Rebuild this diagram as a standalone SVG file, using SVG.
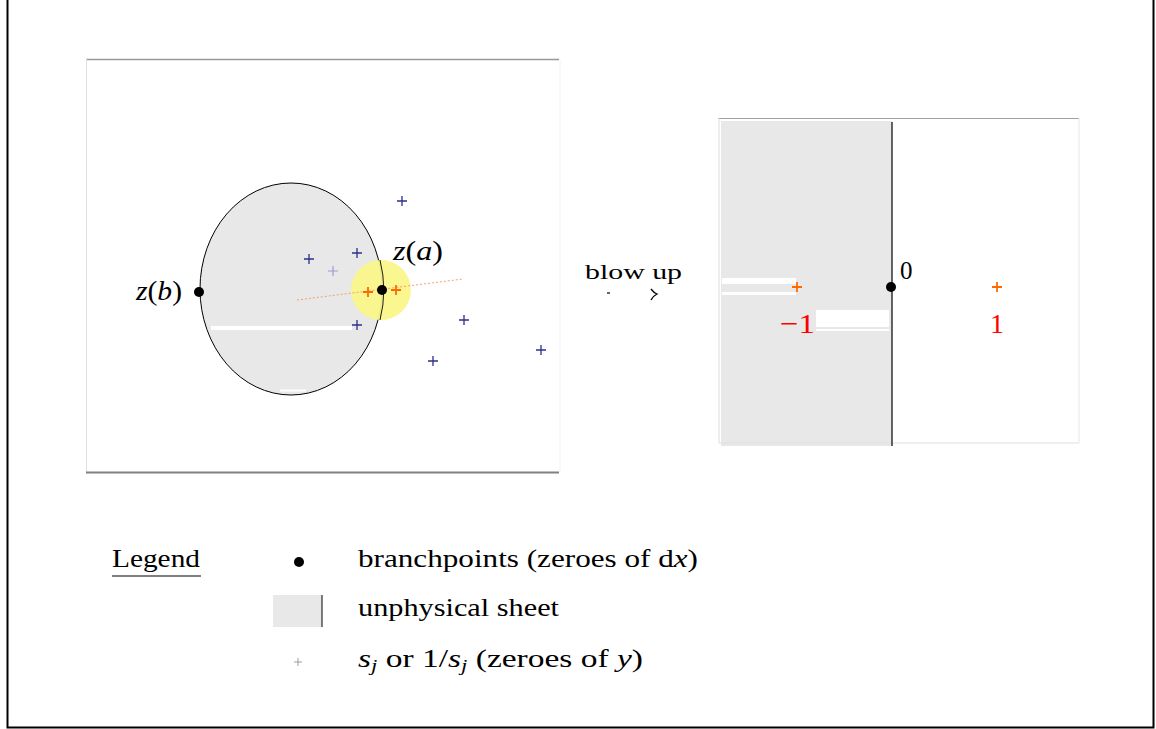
<svg xmlns="http://www.w3.org/2000/svg" width="1156" height="729" viewBox="0 0 1156 729">
<defs>
<style>
.t{font-family:"Liberation Serif","Times New Roman",serif;fill:#000}
.i{font-style:italic}
.bp{stroke:#2e2e8c;stroke-width:1.3;fill:none}
.op{stroke:#ff6a00;stroke-width:1.8;fill:none}
.red{fill:#ff0000}
</style>
<g id="bplus"><path d="M-5,0H5M0,-5V5"/></g>
<g id="oplus"><path d="M-5,0H5M0,-5V5"/></g>
</defs>
<rect width="1156" height="729" fill="#fff"/>
<g id="frame" fill="none" stroke="#000" stroke-width="2">
<path d="M7.5,-2V727.5H1153.5V-2"/>
</g>

<g id="left-panel">
<line x1="86" y1="59.5" x2="559" y2="59.5" stroke="#999" stroke-width="1.5"/>
<line x1="86.5" y1="59" x2="86.5" y2="472" stroke="#e0e0e0" stroke-width="1"/>
<line x1="560" y1="59" x2="560" y2="472" stroke="#f2f2f2" stroke-width="1"/>
<line x1="86" y1="472.5" x2="559" y2="472.5" stroke="#808080" stroke-width="1.8"/>
</g>

<g id="unphysical-region">
<ellipse cx="291" cy="289" rx="91" ry="106" fill="#e8e8e8" stroke="#000" stroke-width="1"/>
<line x1="211" y1="328" x2="352" y2="328" stroke="#fff" stroke-width="4"/>
<line x1="280" y1="390.5" x2="306" y2="390.5" stroke="#fff" stroke-width="2"/>
</g>

<g id="highlight">
<circle cx="381" cy="290" r="30" fill="#fbf78a" opacity="0.95"/>
<line x1="297" y1="300" x2="463" y2="279" stroke="#f0a070" stroke-width="1" stroke-dasharray="2,2"/>
<path d="M380,260 A91,106 0 0 1 380,320" fill="none" stroke="#000" stroke-width="0.9"/>
</g>

<g id="zeroes">
<use href="#bplus" class="bp" x="402" y="201"/>
<use href="#bplus" class="bp" x="309" y="259"/>
<use href="#bplus" class="bp" x="357" y="253"/>
<use href="#bplus" style="stroke:#9c9cd6;stroke-width:1.2;fill:none" x="333" y="271"/>
<use href="#bplus" class="bp" x="357" y="325"/>
<use href="#bplus" class="bp" x="464" y="320"/>
<use href="#bplus" class="bp" x="433" y="361"/>
<use href="#bplus" class="bp" x="541" y="350"/>
<use href="#oplus" class="op" x="368" y="292"/>
<use href="#oplus" class="op" x="396" y="290"/>
</g>

<g id="node-zb">
<circle cx="199" cy="292" r="5" fill="#000"/>
<text class="t" x="136" y="300" font-size="27" textLength="46" lengthAdjust="spacingAndGlyphs"><tspan class="i">z</tspan>(<tspan class="i">b</tspan>)</text>
</g>
<g id="node-za">
<circle cx="382" cy="290" r="5" fill="#000"/>
<text class="t" x="393" y="260" font-size="27" textLength="50" lengthAdjust="spacingAndGlyphs"><tspan class="i">z</tspan>(<tspan class="i">a</tspan>)</text>
</g>

<g id="connectors">
<text class="t" x="585" y="279" font-size="22" textLength="97" lengthAdjust="spacingAndGlyphs">blow up</text>
<line x1="607" y1="293" x2="610" y2="293" stroke="#000" stroke-width="1.2"/>
<path d="M651,289 Q654,293 657,294 Q653,296 651,300" fill="none" stroke="#000" stroke-width="1.3"/>
</g>

<g id="right-panel">
<rect x="721" y="121" width="171" height="325" fill="#e8e8e8"/>
<line x1="718" y1="118.5" x2="1079" y2="118.5" stroke="#a0a0a0" stroke-width="1"/>
<line x1="719" y1="118" x2="719" y2="443" stroke="#dcdcdc" stroke-width="1"/>
<line x1="719" y1="443" x2="1079" y2="443" stroke="#e0e0e0" stroke-width="1"/>
<line x1="1079" y1="118" x2="1079" y2="443" stroke="#e6e6e6" stroke-width="1"/>
<rect x="722" y="278" width="74" height="6" fill="#fff"/>
<rect x="722" y="292" width="74" height="3" fill="#fff"/>
<rect x="816" y="310" width="73" height="17" fill="#fff"/>
<rect x="816" y="329" width="73" height="2" fill="#fff"/>
<line x1="892" y1="122" x2="892" y2="446" stroke="#000" stroke-width="1.2"/>
</g>

<g id="node-0">
<circle cx="891" cy="287" r="5" fill="#000"/>
<text class="t" x="900" y="279" font-size="25">0</text>
</g>
<g id="node-m1">
<use href="#oplus" class="op" x="797" y="287"/>
<text class="t red" x="780" y="333" font-size="28" textLength="35" lengthAdjust="spacingAndGlyphs">−1</text>
</g>
<g id="node-1">
<use href="#oplus" class="op" x="997" y="287"/>
<text class="t red" x="990" y="333" font-size="28">1</text>
</g>

<g id="legend">
<text class="t" x="112" y="567" font-size="25" textLength="88" lengthAdjust="spacingAndGlyphs">Legend</text>
<line x1="112" y1="576" x2="201" y2="576" stroke="#000" stroke-width="1.2"/>
<circle cx="299" cy="562" r="5" fill="#000"/>
<text class="t" x="358" y="567" font-size="25" textLength="340" lengthAdjust="spacingAndGlyphs">branchpoints (zeroes of d<tspan class="i">x</tspan>)</text>
<rect x="273" y="595" width="49" height="32" fill="#e8e8e8"/>
<line x1="322" y1="595" x2="322" y2="627" stroke="#000" stroke-width="1"/>
<text class="t" x="358" y="616" font-size="25" textLength="201" lengthAdjust="spacingAndGlyphs">unphysical sheet</text>
<path d="M294,662H302M298,658V666" stroke="#888" stroke-width="0.8"/>
<text class="t" x="358" y="667" font-size="25" textLength="285" lengthAdjust="spacingAndGlyphs"><tspan class="i">s</tspan><tspan class="i" font-size="17" dy="4">j</tspan><tspan dy="-4"> or 1/</tspan><tspan class="i">s</tspan><tspan class="i" font-size="17" dy="4">j</tspan><tspan dy="-4"> (zeroes of </tspan><tspan class="i">y</tspan>)</text>
</g>
</svg>
